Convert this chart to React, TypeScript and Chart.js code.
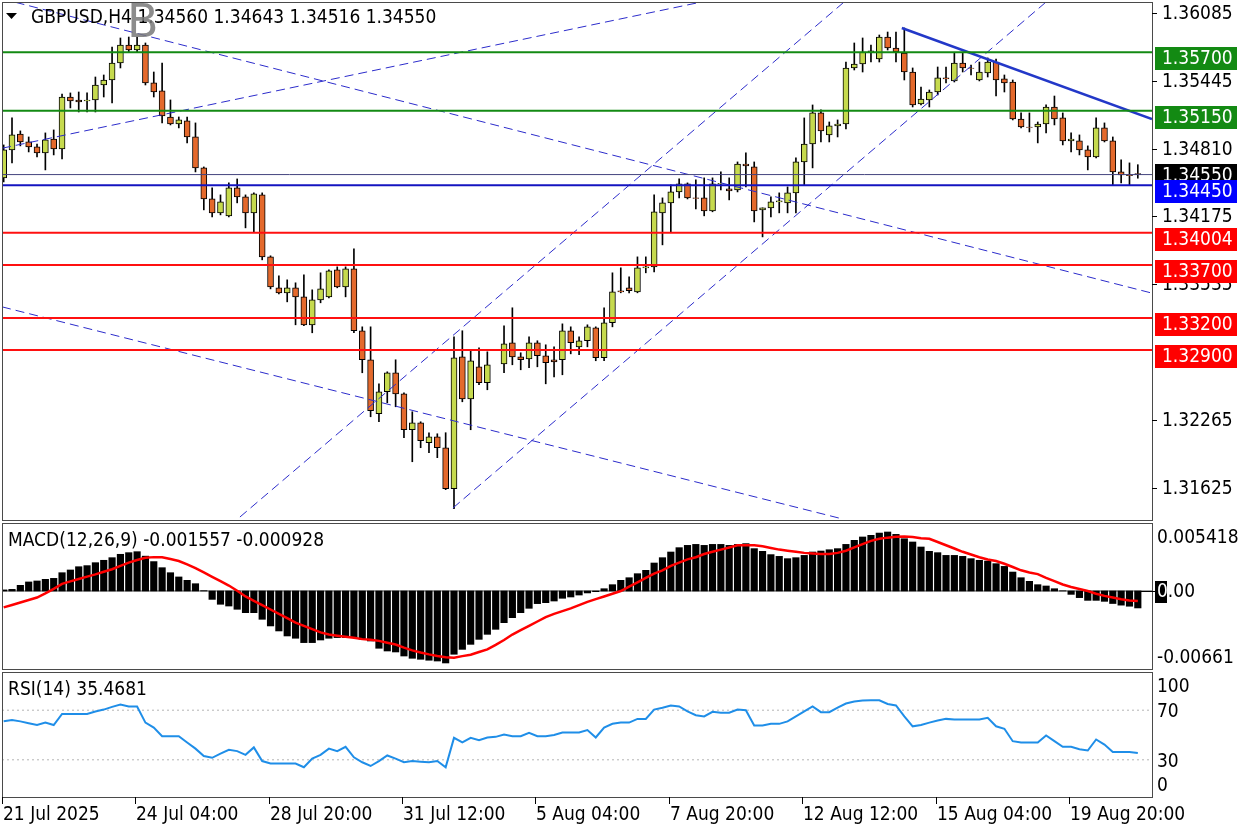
import { useEffect, useRef } from "react";
import { Chart, registerables } from "chart.js";

Chart.register(...registerables);

// ---------------- DATA ----------------
const symbolTitle = "GBPUSD,H4";

const opens = [
  1.34519, 1.34782, 1.34932, 1.34857, 1.3481, 1.34754, 1.34885, 1.34791, 1.3528, 1.35252,
  1.35243, 1.35252, 1.35393, 1.3544, 1.356, 1.35769, 1.35722, 1.35769, 1.35412, 1.35337,
  1.35092, 1.35026, 1.35055, 1.34904, 1.34613, 1.34321, 1.3419, 1.34162, 1.34425, 1.3434,
  1.3419, 1.34359, 1.33776, 1.33485, 1.33438, 1.33485, 1.334, 1.33137, 1.33372, 1.334,
  1.33654, 1.33494, 1.33663, 1.33081, 1.32808, 1.323, 1.32507, 1.32686, 1.32488, 1.3215,
  1.32216, 1.32028, 1.32084, 1.31981, 1.31595, 1.32836, 1.32441, 1.32742, 1.32592, null,
  1.3277, 1.32968, 1.32836, 1.32817, 1.32968, 1.32846, 1.32808, 1.32808, 1.33081, 1.3293,
  1.32987, 1.33109, 1.32827, 1.33156, 1.33457, 1.33485, 1.33447, 1.33673, 1.33682, 1.3419,
  1.34284, 1.34387, 1.34462, 1.34331, 1.34331, 1.34209, 1.34462, 1.34415, 1.34406, 1.3465,
  1.34622, 1.34218, 1.34237, 1.34293, 1.34284, 1.34378, 1.34669, 1.34838, 1.3513, 1.34923,
  1.35008, 1.35026, 1.35553, 1.3559, 1.35703, 1.35637, 1.35844, 1.35741, 1.35694, 1.35515,
  1.35214, 1.35252, 1.35327, 1.35459, 1.35431, 1.356, 1.35553, 1.3544, 1.35506, 1.35609,
  1.3545, 1.35421, 1.35073, 1.34998, 1.34998, 1.35026, 1.35186, 1.35083, 1.34867, 1.34867,
  1.34782, 1.34716, 1.34989, 1.34867, 1.34575, 1.34547, 1.3456,
];
const highs = [
  1.34829, 1.35083, 1.34961, 1.34904, 1.34838, 1.34942, 1.3497, 1.35308, 1.35318, 1.35327,
  1.35318, 1.35468, 1.35487, 1.3575, 1.35835, 1.35844, 1.35844, 1.35788, 1.35515, 1.356,
  1.35252, 1.35092, 1.35092, 1.35036, 1.34622, 1.34425, 1.34359, 1.34472, 1.34509, 1.34359,
  1.34378, 1.34378, 1.33786, 1.33598, 1.3356, 1.33532, 1.33607, 1.33466, 1.33626, 1.33654,
  1.33682, 1.33682, 1.33851, 1.33118, 1.33118, 1.32582, 1.32695, 1.32808, 1.32498, 1.32319,
  1.32225, 1.32122, 1.32112, 1.32122, 1.33024, 1.33081, 1.32893, 1.32921, 1.32883, null,
  1.33128, 1.33297, 1.32874, 1.33024, 1.32987, 1.32949, 1.3293, 1.33146, 1.33118, 1.33024,
  1.33137, 1.33118, 1.33297, 1.33626, 1.33673, 1.33588, 1.33776, 1.33776, 1.34359, 1.34331,
  1.34453, 1.34509, 1.34472, 1.345, 1.34519, 1.34519, 1.34575, 1.34519, 1.34669, 1.34754,
  1.34669, 1.34237, 1.3434, 1.34378, 1.34434, 1.34707, 1.35083, 1.35205, 1.35158, 1.35045,
  1.35064, 1.35609, 1.35788, 1.35835, 1.35769, 1.35863, 1.35891, 1.35891, 1.35929, 1.35553,
  1.35374, 1.35346, 1.35562, 1.35562, 1.35694, 1.35694, 1.35581, 1.35609, 1.35647, 1.35637,
  1.35487, 1.3544, 1.3513, 1.3513, 1.35045, 1.35205, 1.35289, 1.3513, 1.34942, 1.34923,
  1.3482, 1.35083, 1.35036, 1.34904, 1.34688, 1.3466, 1.34643,
];
const lows = [
  1.34481, 1.3466, 1.3482, 1.34763, 1.34716, 1.34594, 1.34735, 1.34697, 1.35177, 1.35139,
  1.35139, 1.35139, 1.3528, 1.35224, 1.35553, 1.35703, 1.35703, 1.35393, 1.3528, 1.35036,
  1.35017, 1.34989, 1.34848, 1.34575, 1.34218, 1.34152, 1.34171, 1.34152, 1.34284, 1.34049,
  1.34011, 1.33748, 1.33475, 1.33428, 1.33353, 1.33137, 1.33128, 1.33062, 1.33344, 1.33391,
  1.33485, 1.334, 1.33062, 1.32686, 1.32272, 1.32225, 1.32404, 1.32366, 1.32075, 1.31849,
  1.31981, 1.31934, 1.31887, 1.31586, 1.31407, 1.32413, 1.3215, 1.32573, 1.32526, null,
  1.32686, 1.32761, 1.32714, 1.32733, 1.32742, 1.32582, 1.32648, 1.32667, 1.32864, 1.32855,
  1.3293, 1.32799, 1.32799, 1.33118, 1.33438, 1.33438, 1.33438, 1.33626, 1.33635, 1.33889,
  1.34011, 1.34331, 1.34321, 1.34227, 1.34162, 1.342, 1.34406, 1.34312, 1.34387, 1.34434,
  1.34105, 1.33964, 1.34152, 1.3419, 1.3419, 1.3419, 1.34453, 1.34613, 1.34857, 1.34857,
  1.34904, 1.34979, 1.35534, 1.35515, 1.35609, 1.35609, 1.35722, 1.35609, 1.3544, 1.35186,
  1.35205, 1.35186, 1.35299, 1.35412, 1.35421, 1.35515, 1.35487, 1.35431, 1.35468, 1.35289,
  1.35327, 1.35064, 1.34989, 1.34951, 1.34848, 1.34942, 1.35017, 1.34829, 1.34763, 1.34735,
  1.34594, 1.34707, 1.34857, 1.34453, 1.34472, 1.34453, 1.34516,
];
const closes = [
  1.34782, 1.34923, 1.34857, 1.3481, 1.34754, 1.34876, 1.34791, 1.3528, 1.35243, 1.35233,
  1.35252, 1.35393, 1.3544, 1.356, 1.35769, 1.35722, 1.35769, 1.35412, 1.35327, 1.35102,
  1.35026, 1.35064, 1.34904, 1.34613, 1.34321, 1.3419, 1.34293, 1.34425, 1.3434, 1.3419,
  1.34368, 1.33776, 1.33494, 1.33438, 1.33485, 1.334, 1.33137, 1.33372, 1.33475, 1.33645,
  1.33494, 1.33663, 1.33081, 1.32808, 1.32329, 1.32507, 1.32686, 1.32488, 1.3215, 1.32216,
  1.32047, 1.32084, 1.31981, 1.31595, 1.32827, 1.32441, 1.32799, 1.32592, 1.32761, null,
  1.32958, 1.32836, 1.32808, 1.32968, 1.32846, 1.3278, 1.32789, 1.33081, 1.32968, 1.32987,
  1.33118, 1.32827, 1.33156, 1.33447, 1.33447, 1.33457, 1.33673, 1.33682, 1.34199, 1.34284,
  1.34387, 1.34462, 1.34331, 1.34325, 1.34209, 1.34462, 1.34468, 1.34397, 1.3465, 1.34632,
  1.34209, 1.34237, 1.34293, 1.34302, 1.34378, 1.34669, 1.34838, 1.3513, 1.34961, 1.35008,
  1.35026, 1.35553, 1.3559, 1.35703, 1.35713, 1.35844, 1.35741, 1.35703, 1.35515, 1.35205,
  1.35261, 1.35327, 1.35459, 1.3545, 1.356, 1.35553, 1.35548, 1.35515, 1.35609, 1.3544,
  1.35412, 1.35073, 1.34998, 1.34993, 1.35026, 1.35186, 1.35073, 1.34867, 1.34885, 1.34782,
  1.34716, 1.34989, 1.34867, 1.34575, 1.34547, 1.3454, 1.3455,
];

const macdHist = [
  0.0001, 0.00015, 0.00052, 0.00083, 0.00092, 0.00107, 0.00116, 0.00168, 0.00193, 0.00223,
  0.00233, 0.0026, 0.00282, 0.00306, 0.00337, 0.00352, 0.00361, 0.0032, 0.0027, 0.00214,
  0.00168, 0.00129, 0.00098, 0.00067, 0.00003, -0.00077, -0.00122, -0.00138, -0.00168, -0.00199,
  -0.00199, -0.0026, -0.00321, -0.00367, -0.00413, -0.00434, -0.00474, -0.00474, -0.0045, -0.00434,
  -0.00428, -0.00428, -0.00428, -0.00444, -0.00459, -0.00526, -0.00551, -0.0056, -0.00597, -0.00618,
  -0.00627, -0.00636, -0.00643, -0.00661, -0.00581, -0.00536, -0.0049, -0.00444, -0.00398, -0.00352,
  -0.00291, -0.00245, -0.00199, -0.00159, -0.00116, -0.00107, -0.00092, -0.00067, -0.00055, -0.00037,
  -0.00018, -0.00006, 0.00021, 0.00058, 0.00098, 0.00122, 0.00159, 0.0019, 0.00257, 0.00306,
  0.00358, 0.00398, 0.00419, 0.00428, 0.00419, 0.00428, 0.00428, 0.00419, 0.00428, 0.00435,
  0.00389, 0.00364, 0.00334, 0.00318, 0.00297, 0.00306, 0.00327, 0.00358, 0.00367, 0.00379,
  0.00389, 0.00428, 0.00465, 0.00496, 0.00511, 0.00532, 0.005418, 0.0052, 0.0048, 0.0045,
  0.00404, 0.00364, 0.00352, 0.00327, 0.00327, 0.00318, 0.00297, 0.00282, 0.00275, 0.00251,
  0.00226, 0.00174, 0.00122, 0.00089, 0.00058, 0.00046, 0.00021, 0.00002, -0.00031, -0.00061,
  -0.00086, -0.00086, -0.00095, -0.00115, -0.0013, -0.0014, -0.001557,
];
const macdSignal = [
  -0.0015, -0.00128, -0.00105, -0.00083, -0.0006, -0.00022, 0.0002, 0.00065, 0.00088, 0.0011,
  0.00132, 0.00153, 0.00177, 0.002, 0.0023, 0.0026, 0.00285, 0.00306, 0.00311, 0.0031,
  0.00293, 0.00275, 0.00245, 0.0021, 0.0017, 0.0013, 0.0009, 0.0005, 0.00002, -0.0005,
  -0.0009, -0.0013, -0.0017, -0.0021, -0.0025, -0.0029, -0.0032, -0.0035, -0.0038, -0.004,
  -0.0041, -0.0042, -0.0043, -0.00442, -0.00448, -0.00458, -0.00475, -0.00492, -0.0052, -0.00545,
  -0.00565, -0.00582, -0.00597, -0.00608, -0.00612, -0.00598, -0.00585, -0.0056, -0.00536, -0.00495,
  -0.0045, -0.004, -0.0036, -0.0032, -0.0028, -0.0024, -0.0021, -0.00185, -0.0016, -0.0013,
  -0.001, -0.00075, -0.0005, -0.00025, 0.0, 0.0004, 0.0008, 0.0012, 0.0016, 0.0019,
  0.0023, 0.0026, 0.0029, 0.0031, 0.0034, 0.0036, 0.0038, 0.004, 0.0042, 0.0042,
  0.0042, 0.0041, 0.00395, 0.0038, 0.0037, 0.0036, 0.0035, 0.00345, 0.0034, 0.0034,
  0.0035, 0.0037, 0.004, 0.0043, 0.0046, 0.0048, 0.0049, 0.00498, 0.005, 0.00495,
  0.00485, 0.0048, 0.0045, 0.0042, 0.0039, 0.0036, 0.00335, 0.0031, 0.0029, 0.00275,
  0.0025, 0.0022, 0.0019, 0.0017, 0.00155, 0.0012, 0.0009, 0.0006, 0.00037, 0.00018,
  0.0, -0.00025, -0.00045, -0.0006, -0.00075, -0.00088, -0.000928,
];
const rsiValues = [
  61, 62, 61, 59.5, 58, 60, 58, 67, 67, 67,
  67, 69, 70.5, 72.7, 74.6, 73, 73, 60, 56, 49,
  49, 49, 44, 39, 33, 31.6, 35, 38, 37, 34,
  40, 29, 27, 27, 27, 27, 24, 31, 34, 39,
  37, 40.5, 32, 28, 25, 29, 33.5, 31, 28, 29,
  28.5, 28, 29, 24, 47.7, 44, 47.7, 45.8, 48, 48.5,
  50.4, 49, 49, 51.7, 49, 49, 50, 52, 52, 52,
  54, 48, 56, 59, 60, 60, 63, 63, 70.5, 72,
  73.8, 73, 69, 66, 65, 68.7, 68, 68, 70.5, 70,
  57.6, 57.6, 59, 59, 61, 65, 69, 73, 68.4, 68.4,
  72, 75.4, 77, 77.8, 78, 78, 75, 73.8, 65, 57,
  58, 60, 61.7, 63, 62.5, 62.5, 62.5, 62.5, 63.8, 57,
  55, 45, 44, 44, 44, 49.6, 45, 40.5, 40.5, 38.5,
  37.5, 46.4, 42.3, 36.2, 36.2, 36.2, 35.4681,
];

const priceTicks = [1.36085, 1.35445, 1.3481, 1.34175, 1.33535, 1.32265, 1.31625];
const supportResistance = [1.357, 1.3515, 1.3445, 1.34004, 1.337, 1.332, 1.329];
const bidPrice = 1.3455;

// channel / trend lines: [barFrom, priceFrom, barTo, priceTo]
const channelLines = [
  [-0.2, 1.34798, 83.1, 1.36164],
  [-0.2, 1.36203, 137.7, 1.33435],
  [-0.2, 1.33306, 100.28, 1.31317],
  [28.33, 1.31329, 100.64, 1.36164],
  [53.87, 1.31414, 124.86, 1.36164],
];
const trendLine = [107.7, 1.35929, 137.7, 1.35073];

const timeTickBars = [0, 16, 32, 48, 64, 80, 96, 112, 128];
const timeTickLabels = [
  "21 Jul 2025", "24 Jul 04:00", "28 Jul 20:00", "31 Jul 12:00", "5 Aug 04:00",
  "7 Aug 20:00", "12 Aug 12:00", "15 Aug 04:00", "19 Aug 20:00",
];
const macdAxisValues = [0.005418, 0, -0.00661];
const macdAxisLabels = ["0.005418", "0.00", "-0.00661"];
const rsiAxisValues = [100, 70, 30, 0];
const rsiLevels = [70, 30];

// ---------------- STYLE / LAYOUT ----------------
const FONT = "19px 'DejaVu Sans Condensed', 'Noto Sans', sans-serif";
const X_MIN = -0.2;
const X_MAX = 137.7;
const BULL = "#c6da4e";
const BEAR = "#e4692c";
const DASH_BLUE = "#2c2ccb";
const LEVEL_LINE_COLORS = ["#138a13", "#138a13", "#1414c0", "#ff1010", "#ff1010", "#ff1010", "#ff1010"];
const LEVEL_BOX_COLORS = ["#138a13", "#138a13", "#0000ff", "#ff0000", "#ff0000", "#ff0000", "#ff0000"];
const FRAME = "#4a4a4a";
const AXIS_X = 1152;

const hLine = (v: number) => [{ x: X_MIN, y: v }, { x: X_MAX, y: v }];

function baseOptions(padTop: number, padBottom: number, yMin: number, yMax: number) {
  return {
    responsive: false,
    animation: false,
    devicePixelRatio: 1,
    events: [],
    layout: { padding: { left: 2, right: 1248 - AXIS_X, top: padTop, bottom: padBottom } },
    plugins: { legend: { display: false }, tooltip: { enabled: false } },
    scales: {
      x: { type: "linear", min: X_MIN, max: X_MAX, offset: false, display: false },
      y: { type: "linear", min: yMin, max: yMax, display: false },
    },
  };
}

function drawRightLabel(ctx: any, text: string, y: number, top: number, bottom: number) {
  const ty = Math.min(Math.max(y + 2, top + 14), bottom - 11);
  ctx.fillText(text, AXIS_X + 5, ty);
}

const mainDecor = {
  id: "mainDecor",
  afterDatasetsDraw(chart: any) {
    const { ctx } = chart;
    const ys = chart.scales.y;
    ctx.save();
    ctx.strokeStyle = FRAME;
    ctx.lineWidth = 1;
    ctx.strokeRect(2.5, 2.5, AXIS_X - 2, 518);
    ctx.font = FONT;
    ctx.textBaseline = "middle";
    ctx.textAlign = "left";
    ctx.fillStyle = "#000";
    ctx.strokeStyle = "#000";
    priceTicks.forEach((v) => {
      const py = Math.round(ys.getPixelForValue(v)) + 2;
      ctx.beginPath();
      ctx.moveTo(AXIS_X, py + 0.5);
      ctx.lineTo(AXIS_X + 5, py + 0.5);
      ctx.stroke();
      ctx.fillText(v.toFixed(5), AXIS_X + 10, py + 1);
    });
    // bid label
    const by = Math.round(ys.getPixelForValue(bidPrice));
    ctx.fillStyle = "#000";
    ctx.fillRect(AXIS_X + 3, by - 11, 82, 23);
    ctx.fillStyle = "#fff";
    ctx.fillText(bidPrice.toFixed(5), AXIS_X + 10, by + 1);
    // level labels
    supportResistance.forEach((v, i) => {
      const ly = Math.round(ys.getPixelForValue(v));
      ctx.fillStyle = LEVEL_BOX_COLORS[i];
      ctx.fillRect(AXIS_X + 3, ly - 5, 82, 23);
      ctx.fillStyle = "#fff";
      ctx.fillText(v.toFixed(5), AXIS_X + 10, ly + 7);
    });
    // header
    ctx.fillStyle = "#000";
    ctx.beginPath();
    ctx.moveTo(6, 13);
    ctx.lineTo(17, 13);
    ctx.lineTo(11.5, 19);
    ctx.closePath();
    ctx.fill();
    const last = opens.length - 1;
    ctx.fillText(
      `${symbolTitle} ${opens[last]!.toFixed(5)} ${highs[last]!.toFixed(5)} ${lows[last]!.toFixed(5)} ${closes[last]!.toFixed(5)}`,
      31,
      18
    );
    ctx.fillStyle = "rgba(120,120,120,0.85)";
    ctx.font = "46px 'DejaVu Sans', sans-serif";
    ctx.textBaseline = "alphabetic";
    ctx.fillText("B", 127, 37);
    ctx.restore();
  },
};

const macdDecor = {
  id: "macdDecor",
  afterDatasetsDraw(chart: any) {
    const { ctx } = chart;
    const ys = chart.scales.y;
    const a = chart.chartArea;
    ctx.save();
    ctx.strokeStyle = FRAME;
    ctx.lineWidth = 1;
    ctx.strokeRect(2.5, 523.5, AXIS_X - 2, 146);
    ctx.font = FONT;
    ctx.textBaseline = "middle";
    ctx.textAlign = "left";
    ctx.fillStyle = "#000";
    const last = macdHist.length - 1;
    ctx.fillText(`MACD(12,26,9) ${macdHist[last].toFixed(6)} ${macdSignal[last].toFixed(6)}`, 8, 541);
    macdAxisValues.forEach((v, i) => {
      const py = Math.round(ys.getPixelForValue(v));
      if (v === 0) {
        ctx.fillStyle = "#000";
        ctx.fillRect(AXIS_X + 3, py - 10, 12, 22);
        ctx.beginPath();
        ctx.moveTo(AXIS_X - 14, py + 0.5);
        ctx.lineTo(AXIS_X + 3, py + 0.5);
        ctx.strokeStyle = "#000";
        ctx.stroke();
        const ty = py + 1;
        ctx.fillStyle = "#fff";
        ctx.fillText("0", AXIS_X + 5, ty);
        const w = ctx.measureText("0").width;
        ctx.fillStyle = "#000";
        ctx.fillText(macdAxisLabels[i].slice(1), AXIS_X + 5 + w, ty);
      } else {
        ctx.fillStyle = "#000";
        drawRightLabel(ctx, macdAxisLabels[i], py, a.top, a.bottom);
      }
    });
    ctx.restore();
  },
};

const rsiDecor = {
  id: "rsiDecor",
  afterDatasetsDraw(chart: any) {
    const { ctx } = chart;
    const ys = chart.scales.y;
    const xs = chart.scales.x;
    const a = chart.chartArea;
    ctx.save();
    ctx.strokeStyle = FRAME;
    ctx.lineWidth = 1;
    ctx.strokeRect(2.5, 672.5, AXIS_X - 2, 125);
    ctx.font = FONT;
    ctx.textBaseline = "middle";
    ctx.textAlign = "left";
    ctx.fillStyle = "#000";
    ctx.fillText(`RSI(14) ${rsiValues[rsiValues.length - 1].toFixed(4)}`, 8, 690);
    rsiAxisValues.forEach((v) => {
      const py = Math.round(ys.getPixelForValue(v));
      drawRightLabel(ctx, String(v), py, a.top, a.bottom);
    });
    ctx.strokeStyle = "#000";
    timeTickBars.forEach((b, i) => {
      const px = Math.round(xs.getPixelForValue(b)) - 2;
      ctx.beginPath();
      ctx.moveTo(px + 0.5, 797);
      ctx.lineTo(px + 0.5, 804);
      ctx.stroke();
      ctx.fillText(timeTickLabels[i], px + 1, 815);
    });
    ctx.restore();
  },
};

function mainConfig(): any {
  const idx = opens.map((o, i) => (o == null ? -1 : i)).filter((i) => i >= 0);
  const bodyColors = idx.map((i) => ((closes[i] as number) >= (opens[i] as number) ? BULL : BEAR));
  const datasets: any[] = [
    {
      type: "bar",
      data: idx.map((i) => ({ x: i, y: [opens[i], closes[i]] })),
      backgroundColor: bodyColors,
      borderColor: "#000",
      borderWidth: 1,
      borderSkipped: false,
      barThickness: 6,
      grouped: false,
      order: 2,
    },
    {
      type: "bar",
      data: idx.map((i) => ({ x: i, y: [lows[i], highs[i]] })),
      backgroundColor: "#000",
      borderWidth: 0,
      barThickness: 1,
      grouped: false,
      order: 3,
    },
  ];
  const lineDs = (data: any[], color: string, width: number, dash: number[] = []) => ({
    type: "line",
    data,
    borderColor: color,
    borderWidth: width,
    borderDash: dash,
    pointRadius: 0,
    fill: false,
    tension: 0,
    order: 1,
  });
  datasets.push(lineDs(hLine(bidPrice), "#44447e", 1));
  supportResistance.forEach((v, i) => datasets.push(lineDs(hLine(v), LEVEL_LINE_COLORS[i], 2)));
  channelLines.forEach((l) =>
    datasets.push(lineDs([{ x: l[0], y: l[1] }, { x: l[2], y: l[3] }], DASH_BLUE, 1, [9, 5]))
  );
  datasets.push(
    lineDs([{ x: trendLine[0], y: trendLine[1] }, { x: trendLine[2], y: trendLine[3] }], "#2338c8", 2.5)
  );
  return {
    type: "bar",
    data: { datasets },
    options: baseOptions(3, 832 - 520, 1.31301, 1.36164),
    plugins: [mainDecor],
  };
}

function macdConfig(): any {
  return {
    type: "bar",
    data: {
      datasets: [
        {
          type: "line",
          data: macdSignal.map((v, i) => ({ x: i, y: v })),
          borderColor: "#ff0000",
          borderWidth: 2.5,
          pointRadius: 0,
          tension: 0,
          fill: false,
          order: 0,
        },
        {
          type: "bar",
          data: macdHist.map((v, i) => ({ x: i, y: v })),
          backgroundColor: "#000",
          borderWidth: 0,
          barThickness: 6.5,
          grouped: false,
          order: 2,
        },
        {
          type: "line",
          data: hLine(0),
          borderColor: "#505050",
          borderWidth: 1,
          pointRadius: 0,
          fill: false,
          order: 3,
        },
      ],
    },
    options: baseOptions(524, 832 - 669, -0.007163, 0.006152),
    plugins: [macdDecor],
  };
}

function rsiConfig(): any {
  return {
    type: "line",
    data: {
      datasets: [
        {
          data: rsiValues.map((v, i) => ({ x: i, y: v })),
          borderColor: "#1f8ee8",
          borderWidth: 2,
          pointRadius: 0,
          tension: 0,
          fill: false,
          order: 0,
        },
        ...rsiLevels.map((v) => ({
          data: hLine(v),
          borderColor: "#b4b4b4",
          borderWidth: 1,
          borderDash: [2, 3],
          pointRadius: 0,
          fill: false,
          order: 1,
        })),
      ],
    },
    options: baseOptions(673, 832 - 797, 0, 100),
    plugins: [rsiDecor],
  };
}

export default function App() {
  const mainRef = useRef<HTMLCanvasElement>(null);
  const macdRef = useRef<HTMLCanvasElement>(null);
  const rsiRef = useRef<HTMLCanvasElement>(null);

  useEffect(() => {
    const charts = [
      new Chart(mainRef.current as HTMLCanvasElement, mainConfig()),
      new Chart(macdRef.current as HTMLCanvasElement, macdConfig()),
      new Chart(rsiRef.current as HTMLCanvasElement, rsiConfig()),
    ];
    return () => charts.forEach((c) => c.destroy());
  }, []);

  const cs: any = { position: "absolute", left: 0, top: 0, width: 1248, height: 832 };
  return (
    <div
      style={{
        position: "fixed",
        left: 0,
        top: 0,
        width: 1248,
        height: 832,
        background: "#ffffff",
        overflow: "hidden",
      }}
    >
      <canvas ref={mainRef} width={1248} height={832} style={cs} />
      <canvas ref={macdRef} width={1248} height={832} style={cs} />
      <canvas ref={rsiRef} width={1248} height={832} style={cs} />
    </div>
  );
}
